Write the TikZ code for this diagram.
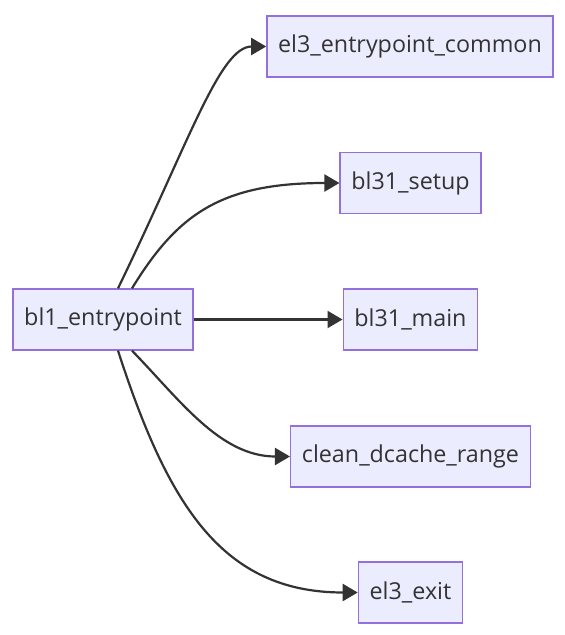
\documentclass[tikz,border=0pt]{standalone}
\usepackage{fontspec}
\setmainfont{Open Sans}
\usepackage{xcolor}
\usepackage{tikz}
\usetikzlibrary{arrows.meta}
\definecolor{boxfill}{HTML}{ECECFF}
\definecolor{boxline}{HTML}{9370DB}
\definecolor{edge}{HTML}{333333}
\tikzset{
  fn/.style ={rectangle,draw=boxline,fill=boxfill,line width=1.3pt,minimum height=61pt,
              inner xsep=11.3pt,text=edge,font=\fontsize{23.3}{27}\selectfont},
  ar/.style ={-{Triangle[length=15pt,width=17pt]},draw=edge,line width=2.2pt},
}

\begin{document}
\begin{tikzpicture}[x=1pt,y=-1pt]
  \useasboundingbox (0,0) rectangle (565,635);
  \node[fn] (bl1)   at (103,319.5){bl1\_entrypoint};
  \node[fn] (el3c)  at (410,46.5) {el3\_entrypoint\_common};
  \node[fn] (setup) at (410.5,183){bl31\_setup};
  \node[fn] (main)  at (410.5,319.5){bl31\_main};
  \node[fn] (clean) at (410.5,456.5){clean\_dcache\_range};
  \node[fn] (exit)  at (410.5,592.5){el3\_exit};
  \draw[ar] ([xshift=15]bl1.north) .. controls (190,140) and (220,46.5) .. (el3c.west);
  \draw[ar] ([xshift=29]bl1.north) .. controls (177,215) and (220,183) .. (setup.west);
  \draw[ar] (bl1.east) -- (main.west);
  \draw[ar] ([xshift=29]bl1.south) .. controls (180,400) and (220,456.5) .. (clean.west);
  \draw[ar] ([xshift=15]bl1.south) .. controls (168,505) and (222,592.5) .. (exit.west);
\end{tikzpicture}
\end{document}
